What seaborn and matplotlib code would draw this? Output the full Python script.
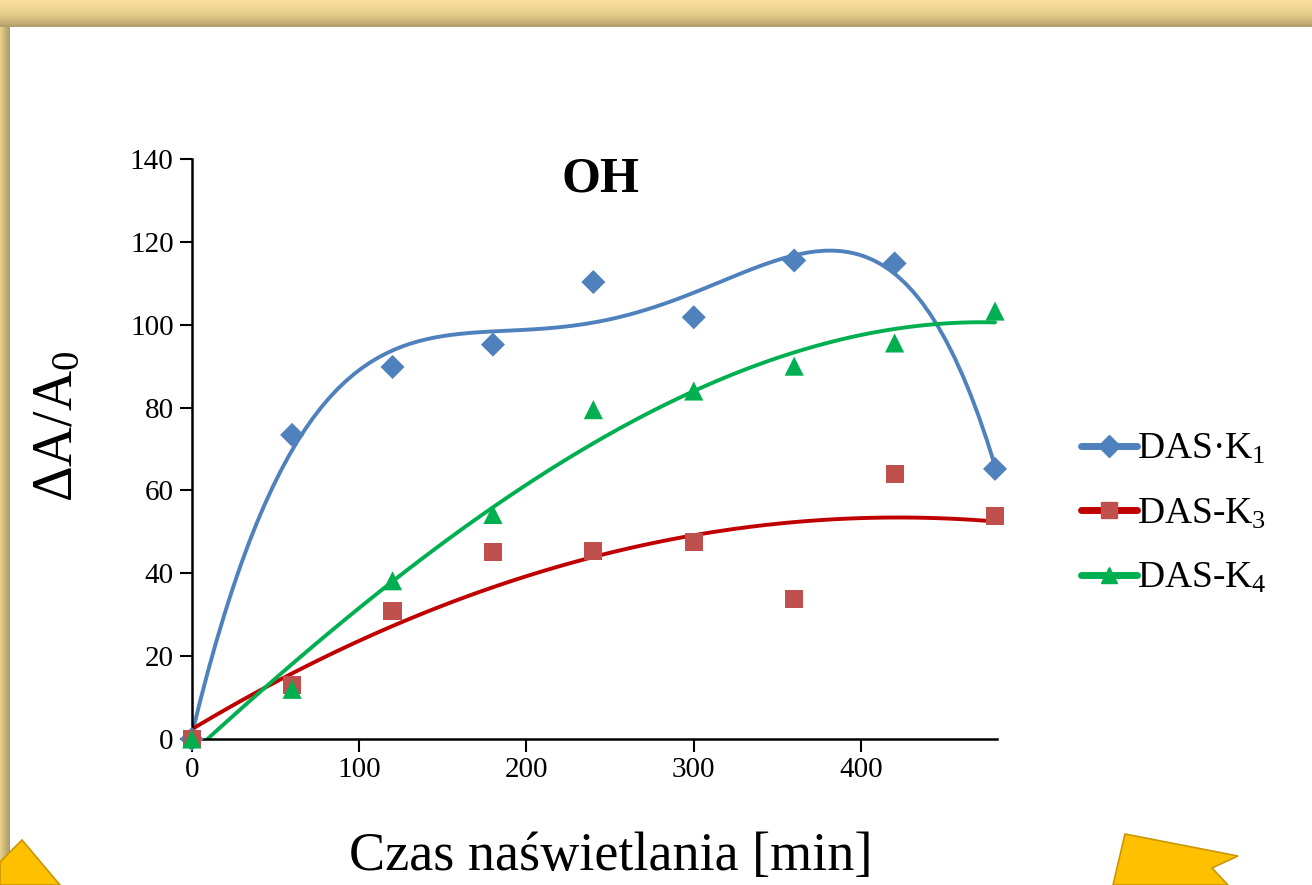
import numpy as np
import pandas as pd
import matplotlib
matplotlib.use("Agg")
import matplotlib.pyplot as plt
import seaborn as sns
from matplotlib.lines import Line2D
from matplotlib.patches import Polygon
from matplotlib.colors import LinearSegmentedColormap

# ---- data ----
time_min = [0, 60, 120, 180, 240, 300, 360, 420, 480]
das_k1 = [0, 73.4, 89.8, 95.2, 110.3, 101.8, 115.5, 114.8, 65.2]
das_k3 = [0, 13.0, 30.9, 45.2, 45.3, 47.5, 33.8, 64.0, 53.8]
das_k4 = [0, 12.0, 38.2, 54.2, 79.5, 84.0, 90.0, 95.6, 103.3]
series_labels = ["DAS·K$_\\mathrm{1}$", "DAS-K$_\\mathrm{3}$", "DAS-K$_\\mathrm{4}$"]
trend_orders = [5, 2, 3]
x_ticks = [0, 100, 200, 300, 400]
y_ticks = [0, 20, 40, 60, 80, 100, 120, 140]
title_text = "OH"
x_label = "Czas naświetlania [min]"
y_label = r"$\mathrm{\Delta A/A_0}$"

df = pd.DataFrame({"t": time_min, "k1": das_k1, "k3": das_k3, "k4": das_k4})

sns.set_style("ticks")
plt.rcParams["font.family"] = ["Liberation Serif", "DejaVu Serif"]
plt.rcParams["mathtext.fontset"] = "custom"
plt.rcParams["mathtext.rm"] = "Liberation Serif"
plt.rcParams["mathtext.it"] = "Liberation Serif:italic"
plt.rcParams["mathtext.bf"] = "Liberation Serif:bold"
plt.rcParams["text.color"] = "black"
plt.rcParams["axes.labelcolor"] = "black"

W, H = 1312, 885
fig = plt.figure(figsize=(W / 100, H / 100), dpi=100)
fig.patch.set_facecolor("white")

# ---- slide decoration ----
band = fig.add_axes([0, 1 - 27 / H, 1, 27 / H])
grad = np.linspace(0, 1, 27).reshape(-1, 1)
cm_band = LinearSegmentedColormap.from_list("band", ["#F7E09A", "#EED593", "#D9C283", "#B29E6C"])
band.imshow(grad, aspect="auto", cmap=cm_band, extent=[0, 1, 0, 1])
band.axis("off")
left = fig.add_axes([0, 0, 10 / W, 1 - 27 / H])
cm_left = LinearSegmentedColormap.from_list("left", ["#E8D08A", "#C9B57B", "#B09C6A"])
left.imshow(np.linspace(0, 1, 10).reshape(1, -1), aspect="auto", cmap=cm_left, extent=[0, 1, 0, 1])
left.axis("off")


def px(pts):
    return [(x / W, 1 - y / H) for x, y in pts]


fig.patches.append(Polygon(px([(0, 862), (22, 840), (60, 885), (0, 885)]), closed=True,
                           transform=fig.transFigure, facecolor="#FFC000", edgecolor="#C99700", lw=1.2))
fig.patches.append(Polygon(px([(1125, 834), (1238, 856), (1212, 868), (1228, 885), (1113, 885)]), closed=True,
                           transform=fig.transFigure, facecolor="#FFC000", edgecolor="#C99700", lw=1.2))

# ---- main axes ----
ax = fig.add_axes([191.7 / W, 1 - 739 / H, 805 / W, 580 / H])

blue, red_m, red_l, green = "#4F81BD", "#C0504D", "#C00000", "#00B050"

sns.regplot(data=df, x="t", y="k1", order=trend_orders[0], ci=None, ax=ax, marker="D", truncate=True,
            scatter_kws=dict(s=150, color=blue, edgecolor="none", zorder=3, clip_on=False, alpha=1),
            line_kws=dict(color=blue, lw=2.8, zorder=2))
sns.regplot(data=df, x="t", y="k3", order=trend_orders[1], ci=None, ax=ax, marker="s", truncate=True,
            scatter_kws=dict(s=170, color=red_m, edgecolor="none", zorder=3, clip_on=False, alpha=1),
            line_kws=dict(color=red_l, lw=2.8, zorder=2))
sns.regplot(data=df, x="t", y="k4", order=trend_orders[2], ci=None, ax=ax, marker="^", truncate=True,
            scatter_kws=dict(s=190, color=green, edgecolor="none", zorder=3, clip_on=False, alpha=1),
            line_kws=dict(color=green, lw=2.8, zorder=2))

ax.set_xlim(0, 481)
ax.set_ylim(0, 140)
ax.set_xticks(x_ticks)
ax.set_yticks(y_ticks)
sns.despine(ax=ax)
for s in ("left", "bottom"):
    ax.spines[s].set_linewidth(1.8)
    ax.spines[s].set_color("black")
ax.tick_params(axis="both", which="major", direction="out", length=9, width=1.5,
               colors="black", labelsize=21, pad=4)

ax.set_xlabel(x_label, fontsize=39)
ax.xaxis.set_label_coords(0.52, -0.16)
ax.set_ylabel(y_label, fontsize=40)
ax.yaxis.set_label_coords(-0.133, 0.54)

ax.text(0.508, 0.964, title_text, transform=ax.transAxes, ha="center", va="center",
        fontsize=36, fontweight="bold")

handles = [
    Line2D([], [], color=blue, lw=5, marker="D", markersize=11, markerfacecolor=blue, markeredgecolor=blue),
    Line2D([], [], color=red_l, lw=5, marker="s", markersize=12, markerfacecolor=red_m, markeredgecolor=red_m),
    Line2D([], [], color=green, lw=5, marker="^", markersize=12, markerfacecolor=green, markeredgecolor=green),
]
fig.legend(handles, series_labels, loc="center left", bbox_to_anchor=(1062 / W, 1 - 514 / H),
           frameon=False, fontsize=27, handlelength=1.5, handletextpad=0.0, labelspacing=0.8,
           borderpad=0)

fig.savefig("out.png", dpi=100, facecolor="white")
